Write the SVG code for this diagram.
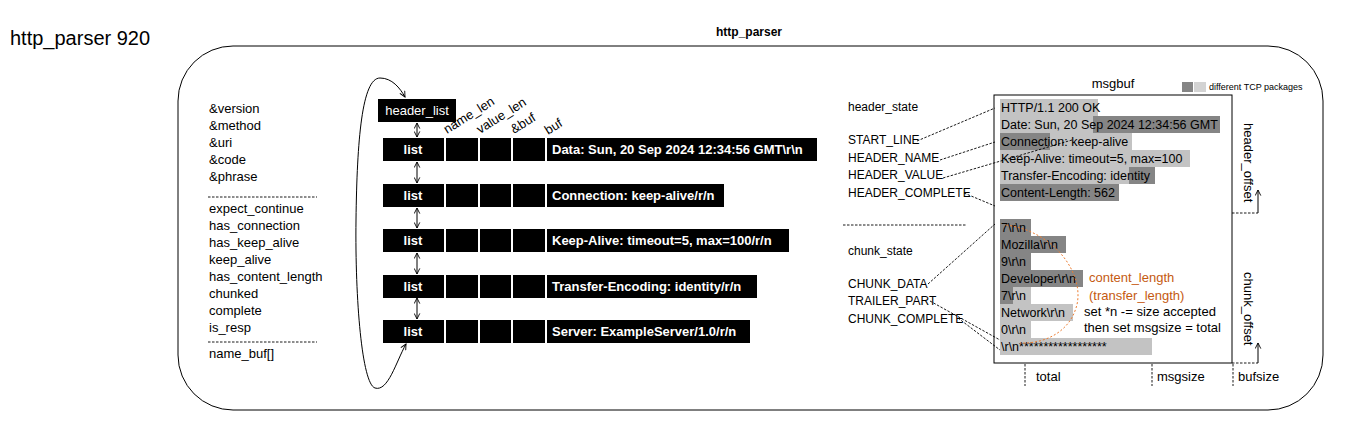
<svg xmlns="http://www.w3.org/2000/svg" width="1354" height="429" viewBox="0 0 1354 429">
<style>
text{font-family:"Liberation Sans",Arial,sans-serif;fill:#000}
.t13{font-size:13px}
.st{font-size:12px}
.mb{font-size:12.5px}
.wb{font-size:13px;font-weight:bold;fill:#fff}
.blk{fill:#000}
.lg{fill:#C3C3C3}
.dk{fill:#858585}
.dash{fill:none;stroke:#000;stroke-width:0.9;stroke-dasharray:2.5,1.5}
.ln{fill:none;stroke:#000;stroke-width:1}
</style>
<defs>
<marker id="ah" viewBox="0 0 10 10" refX="9" refY="5" markerWidth="7" markerHeight="7" orient="auto-start-reverse" markerUnits="userSpaceOnUse">
<path d="M1,1 L9,5 L1,9" fill="none" stroke="#000" stroke-width="1.3"/>
</marker>
</defs>
<rect width="1354" height="429" fill="#fff"/>
<text x="10" y="45" style="font-size:20px">http_parser 920</text>
<text x="749" y="36" text-anchor="middle" style="font-size:12px;font-weight:bold">http_parser</text>
<rect id="outer" x="178" y="46" width="1145" height="364" rx="55" ry="55" class="ln"/>

<g id="fields">
<text class="t13" x="209" y="113">&amp;version</text>
<text class="t13" x="209" y="130">&amp;method</text>
<text class="t13" x="209" y="147">&amp;uri</text>
<text class="t13" x="209" y="164">&amp;code</text>
<text class="t13" x="209" y="181">&amp;phrase</text>
<line x1="208" y1="197" x2="317" y2="197" class="dash"/>
<text class="t13" x="209" y="213">expect_continue</text>
<text class="t13" x="209" y="230">has_connection</text>
<text class="t13" x="209" y="247">has_keep_alive</text>
<text class="t13" x="209" y="264">keep_alive</text>
<text class="t13" x="209" y="281">has_content_length</text>
<text class="t13" x="209" y="298">chunked</text>
<text class="t13" x="209" y="315">complete</text>
<text class="t13" x="209" y="332">is_resp</text>
<line x1="208" y1="342" x2="317" y2="342" class="dash"/>
<text class="t13" x="209" y="358">name_buf[]</text>
</g>

<g id="header_list">
<rect x="378" y="99" width="78" height="23" class="blk"/>
<text x="417" y="115" text-anchor="middle" style="font-size:13px;fill:#fff">header_list</text>
</g>

<g id="column_labels" class="t13">
<text class="t13" transform="translate(447,134) rotate(-32)">name_len</text>
<text class="t13" transform="translate(480,134) rotate(-32)">value_len</text>
<text class="t13" transform="translate(514,134) rotate(-32)">&amp;buf</text>
<text class="t13" transform="translate(548,135) rotate(-32)">buf</text>
</g>

<g id="row1">
<rect x="383" y="138" width="61" height="23" class="blk"/><rect x="446" y="138" width="32" height="23" class="blk"/><rect x="480" y="138" width="31" height="23" class="blk"/><rect x="513" y="138" width="32" height="23" class="blk"/><rect x="547" y="138" width="270" height="23" class="blk"/>
<text class="wb" x="413" y="154" text-anchor="middle">list</text>
<text class="wb" x="552" y="154">Data: Sun, 20 Sep 2024 12:34:56 GMT\r\n</text>
</g>
<g id="row2">
<rect x="383" y="184" width="61" height="23" class="blk"/><rect x="446" y="184" width="32" height="23" class="blk"/><rect x="480" y="184" width="31" height="23" class="blk"/><rect x="513" y="184" width="32" height="23" class="blk"/><rect x="547" y="184" width="177" height="23" class="blk"/>
<text class="wb" x="413" y="200" text-anchor="middle">list</text>
<text class="wb" x="552" y="200">Connection: keep-alive/r/n</text>
</g>
<g id="row3">
<rect x="383" y="229" width="61" height="23" class="blk"/><rect x="446" y="229" width="32" height="23" class="blk"/><rect x="480" y="229" width="31" height="23" class="blk"/><rect x="513" y="229" width="32" height="23" class="blk"/><rect x="547" y="229" width="242" height="23" class="blk"/>
<text class="wb" x="413" y="245" text-anchor="middle">list</text>
<text class="wb" x="552" y="245">Keep-Alive: timeout=5, max=100/r/n</text>
</g>
<g id="row4">
<rect x="383" y="275" width="61" height="23" class="blk"/><rect x="446" y="275" width="32" height="23" class="blk"/><rect x="480" y="275" width="31" height="23" class="blk"/><rect x="513" y="275" width="32" height="23" class="blk"/><rect x="547" y="275" width="210" height="23" class="blk"/>
<text class="wb" x="413" y="291" text-anchor="middle">list</text>
<text class="wb" x="552" y="291">Transfer-Encoding: identity/r/n</text>
</g>
<g id="row5">
<rect x="383" y="320" width="61" height="23" class="blk"/><rect x="446" y="320" width="32" height="23" class="blk"/><rect x="480" y="320" width="31" height="23" class="blk"/><rect x="513" y="320" width="32" height="23" class="blk"/><rect x="547" y="320" width="203" height="23" class="blk"/>
<text class="wb" x="413" y="336" text-anchor="middle">list</text>
<text class="wb" x="552" y="336">Server: ExampleServer/1.0/r/n</text>
</g>

<g id="states">
<text class="st" x="848" y="111">header_state</text>
<text class="st" x="848" y="144">START_LINE</text>
<text class="st" x="848" y="162">HEADER_NAME</text>
<text class="st" x="848" y="179">HEADER_VALUE</text>
<text class="st" x="848" y="197">HEADER_COMPLETE</text>
<line x1="843" y1="225" x2="967" y2="225" class="dash"/>
<text class="st" x="848" y="255">chunk_state</text>
<text class="st" x="848" y="288">CHUNK_DATA</text>
<text class="st" x="848" y="305">TRAILER_PART</text>
<text class="st" x="848" y="323">CHUNK_COMPLETE</text>
</g>

<g id="msgbuf">
<text class="t13" x="1113" y="88" text-anchor="middle">msgbuf</text>
<rect x="1182" y="82" width="11" height="10" class="dk"/>
<rect x="1194" y="82" width="12" height="10" fill="#D3D3D3"/>
<text x="1209" y="90" style="font-size:9px">different TCP packages</text>
<rect x="994" y="95" width="238" height="268" class="ln" fill="#fff"/>
<rect x="1000" y="99" width="98" height="17" class="lg"/>
<rect x="1000" y="116" width="93" height="17" class="lg"/><rect x="1093" y="116" width="127" height="17" class="dk"/>
<rect x="1000" y="133" width="50" height="17" class="dk"/><rect x="1050" y="133" width="82" height="17" class="lg"/>
<rect x="1000" y="150" width="190" height="17" class="lg"/>
<rect x="1000" y="167" width="129" height="17" class="lg"/><rect x="1129" y="167" width="26" height="17" class="dk"/>
<rect x="1000" y="184" width="119" height="17" class="dk"/>
<rect x="1000" y="219" width="31" height="17" class="dk"/>
<rect x="1000" y="236" width="66" height="17" class="dk"/>
<rect x="1000" y="253" width="31" height="17" class="dk"/>
<rect x="1000" y="270" width="83" height="17" class="dk"/>
<rect x="1000" y="287" width="13" height="17" class="dk"/><rect x="1013" y="287" width="18" height="17" class="lg"/>
<rect x="1000" y="304" width="73" height="17" class="lg"/>
<rect x="1000" y="321" width="31" height="17" class="lg"/>
<rect x="1000" y="338" width="152" height="17" class="lg"/>
<text class="mb" x="1001" y="112">HTTP/1.1 200 OK</text>
<text class="mb" x="1001" y="129">Date: Sun, 20 Sep 2024 12:34:56 GMT</text>
<text class="mb" x="1001" y="146">Connection: keep-alive</text>
<text class="mb" x="1001" y="163">Keep-Alive: timeout=5, max=100</text>
<text class="mb" x="1001" y="180">Transfer-Encoding: identity</text>
<text class="mb" x="1001" y="197">Content-Length: 562</text>
<text class="mb" x="1001" y="232">7\r\n</text>
<text class="mb" x="1001" y="249">Mozilla\r\n</text>
<text class="mb" x="1001" y="266">9\r\n</text>
<text class="mb" x="1001" y="283">Developer\r\n</text>
<text class="mb" x="1001" y="300">7\r\n</text>
<text class="mb" x="1001" y="317">Network\r\n</text>
<text class="mb" x="1001" y="334">0\r\n</text>
<text class="mb" x="1001" y="351">\r\n******************</text>
<path d="M1006,225 C1058,232 1086,278 1076,308 C1068,334 1042,344 1020,343" fill="none" stroke="#ED7D31" stroke-width="1" stroke-dasharray="2,2"/>
<text class="t13" x="1089" y="282" fill="#C55A11" style="fill:#C55A11">content_length</text>
<text class="t13" x="1089" y="300" style="fill:#C55A11">(transfer_length)</text>
<text class="t13" x="1084" y="316">set *n -= size accepted</text>
<text class="t13" x="1084" y="332">then set msgsize = total</text>
</g>

<g id="offsets">
<text class="t13" transform="translate(1244,123) rotate(90)">header_offset</text>
<text class="t13" transform="translate(1244,272) rotate(90)">chunk_offset</text>
<text class="t13" x="1036" y="381">total</text>
<text class="t13" x="1157" y="381">msgsize</text>
<text class="t13" x="1238" y="381">bufsize</text>
</g>

<g id="connectors">
<path d="M406,344 C396,362 388,392 375,388 C362,384 355,300 356,220 C357,140 362,78 380,78 C392,78 400,88 405,97" class="ln" marker-start="url(#ah)" marker-end="url(#ah)"/>
<line x1="417" y1="123" x2="417" y2="137" class="ln" marker-start="url(#ah)" marker-end="url(#ah)"/>
<line x1="417" y1="162" x2="417" y2="183" class="ln" marker-start="url(#ah)" marker-end="url(#ah)"/>
<line x1="417" y1="208" x2="417" y2="228" class="ln" marker-start="url(#ah)" marker-end="url(#ah)"/>
<line x1="417" y1="253" x2="417" y2="274" class="ln" marker-start="url(#ah)" marker-end="url(#ah)"/>
<line x1="417" y1="298" x2="417" y2="319" class="ln" marker-start="url(#ah)" marker-end="url(#ah)"/>
<line x1="917" y1="141" x2="995" y2="108" class="dash"/>
<line x1="940" y1="160" x2="995" y2="142" class="dash"/>
<line x1="943" y1="178" x2="1072" y2="140" class="dash"/>
<line x1="964" y1="193" x2="995" y2="206" class="dash"/>
<line x1="928" y1="284" x2="995" y2="224" class="dash"/>
<line x1="930" y1="301" x2="1000" y2="340" class="dash"/>
<line x1="958" y1="318" x2="1000" y2="350" class="dash"/>
<line x1="1232" y1="213" x2="1258" y2="213" class="dash"/>
<line x1="1258" y1="213" x2="1258" y2="190" class="ln" marker-end="url(#ah)"/>
<line x1="1232" y1="363" x2="1258" y2="363" class="dash"/>
<line x1="1258" y1="363" x2="1258" y2="343" class="ln" marker-end="url(#ah)"/>
<line x1="1025" y1="364" x2="1025" y2="386" class="dash"/>
<line x1="1152" y1="364" x2="1152" y2="386" class="dash"/>
<line x1="1233" y1="364" x2="1233" y2="386" class="dash"/>
</g>
</svg>
